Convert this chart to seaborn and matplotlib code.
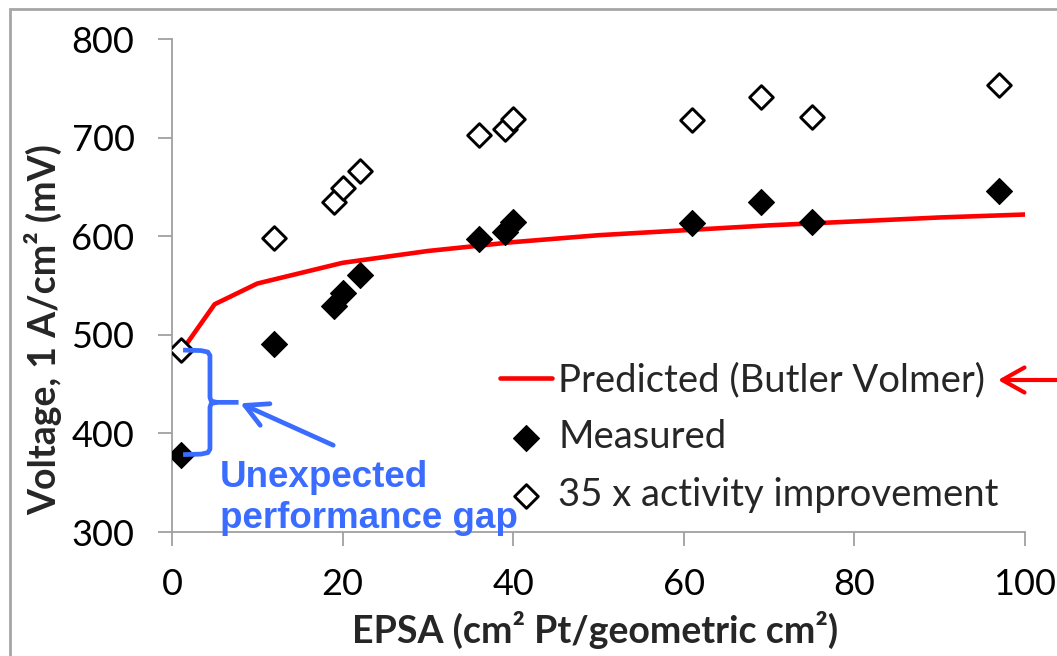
import matplotlib
matplotlib.use("Agg")
import matplotlib.pyplot as plt
import seaborn as sns
import pandas as pd
from matplotlib.patches import Rectangle

# EPSA (cm2 Pt / geometric cm2) of each tested electrode
epsa = [1, 12, 19, 20, 22, 36, 39, 40, 61, 69, 75, 97]
# Cell voltage at 1 A/cm2 (mV)
measured = [378, 491, 529, 542, 561, 597, 604, 614, 613, 635, 614, 646]
improved = [485, 598, 635, 649, 666, 703, 709, 719, 718, 741, 721, 753]
# Butler-Volmer prediction
pred_epsa = [1, 5, 10, 20, 30, 40, 50, 60, 70, 80, 90, 100]
pred_volt = [482, 531, 552, 573, 585, 594, 601, 606, 611, 615, 619, 622]

x_ticks = [0, 20, 40, 60, 80, 100]
y_ticks = [300, 400, 500, 600, 700, 800]

sns.set_style("ticks")
plt.rcParams["font.family"] = ["Lato", "DejaVu Sans"]

W, H = 1057, 656
fig = plt.figure(figsize=(W / 100, H / 100), dpi=100)
ax = fig.add_axes([172 / W, 1 - 532 / H, (1025 - 172) / W, (532 - 39) / H])

pred_df = pd.DataFrame({"EPSA": pred_epsa, "Voltage": pred_volt})
pts_df = pd.DataFrame({"EPSA": epsa, "Measured": measured, "Improved": improved})

sns.lineplot(data=pred_df, x="EPSA", y="Voltage", color="#ff0000", lw=3.3,
             ax=ax, label="Predicted (Butler Volmer)", zorder=2)
sns.scatterplot(data=pts_df, x="EPSA", y="Measured", marker="D", s=175,
                color="black", edgecolor="black", linewidth=0.8, ax=ax,
                label="Measured", zorder=3)
sns.scatterplot(data=pts_df, x="EPSA", y="Improved", marker="D", s=145,
                color="white", edgecolor="black", linewidth=2.1, ax=ax,
                label="35 x activity improvement", zorder=3)

ax.set_xlim(0, 100)
ax.set_ylim(300, 800)
ax.set_xticks(x_ticks)
ax.set_yticks(y_ticks)
ax.set_xticklabels([str(v) for v in x_ticks])
ax.set_yticklabels([str(v) for v in y_ticks])

axis_grey = "#a0a0a0"
for side in ("top", "right"):
    ax.spines[side].set_visible(False)
for side in ("left", "bottom"):
    ax.spines[side].set_color(axis_grey)
    ax.spines[side].set_linewidth(1.3)
ax.tick_params(axis="both", direction="out", length=10, width=1.3,
               color=axis_grey, labelsize=26, labelcolor="black")
ax.tick_params(axis="y", pad=17)
ax.tick_params(axis="x", pad=16)

ax.set_xlabel("EPSA (cm² Pt/geometric cm²)", fontsize=27, fontweight="bold")
ax.set_ylabel("Voltage, 1 A/cm² (mV)", fontsize=27, fontweight="bold")
ax.xaxis.set_label_coords(0.496, -0.16)
ax.yaxis.set_label_coords(-0.129, 0.41)

handles, labels = ax.get_legend_handles_labels()
ax.legend(handles, labels, loc="upper left", frameon=False,
          bbox_to_anchor=(500 / W, 1 - 362 / H), bbox_transform=fig.transFigure,
          fontsize=27.5, handlelength=1.36, handletextpad=0.16,
          labelspacing=0.56, borderpad=0, borderaxespad=0)

# Brace spanning the gap between predicted and measured voltage at low EPSA
blue = "#3a6cff"
top, bottom = improved[0], measured[0]
mid = (top + bottom) / 2
xb = 4.45
brace_top = [(1.3, top - 0.5), (3.4, top - 1.0), (4.2, top - 2.5), (xb, top - 6),
             (xb, mid + 5), (xb + 0.15, mid + 1.2), (xb + 0.8, mid), (7.8, mid)]
brace_bot = [(xb + 0.8, mid), (xb + 0.15, mid - 1.2), (xb, mid - 5),
             (xb, bottom + 6), (4.2, bottom + 2.5), (3.4, bottom + 1.0),
             (1.3, bottom + 0.5)]
for seg in (brace_top, brace_bot):
    xs, ys = zip(*seg)
    ax.plot(xs, ys, color=blue, lw=3.4, solid_capstyle="butt",
            solid_joinstyle="round", clip_on=False, zorder=4)

ax.annotate("", xy=(8.0, mid - 1), xytext=(18.9, 388),
            arrowprops=dict(arrowstyle="->,head_length=1.6,head_width=0.85",
                            color=blue, lw=3.4, mutation_scale=10,
                            shrinkA=0, shrinkB=0),
            zorder=4, annotation_clip=False)

ax.text(5.6, 345.5, "Unexpected", color=blue, fontsize=26.5, fontweight="bold",
        family=["Liberation Sans", "DejaVu Sans"], va="baseline", ha="left",
        clip_on=False, zorder=5)
ax.text(5.6, 304.5, "performance gap", color=blue, fontsize=26.5, fontweight="bold",
        family=["Liberation Sans", "DejaVu Sans"], va="baseline", ha="left",
        clip_on=False, zorder=5)

# Red arrow pointing at the prediction entry of the legend
ax.annotate("", xy=(998, H - 380), xycoords="figure pixels",
            xytext=(1060, H - 380), textcoords="figure pixels",
            arrowprops=dict(arrowstyle="->,head_length=1.6,head_width=0.9",
                            color="#ff0000", lw=3.0, mutation_scale=10,
                            shrinkA=0, shrinkB=0),
            annotation_clip=False)

# Frame around the chart area
fig.patches.append(Rectangle((10 / W, -0.1), 1.2, 1.1 - 9 / H,
                             transform=fig.transFigure, fill=False,
                             edgecolor="#a6a6a6", lw=2.0))

fig.savefig("out.png", dpi=100)
